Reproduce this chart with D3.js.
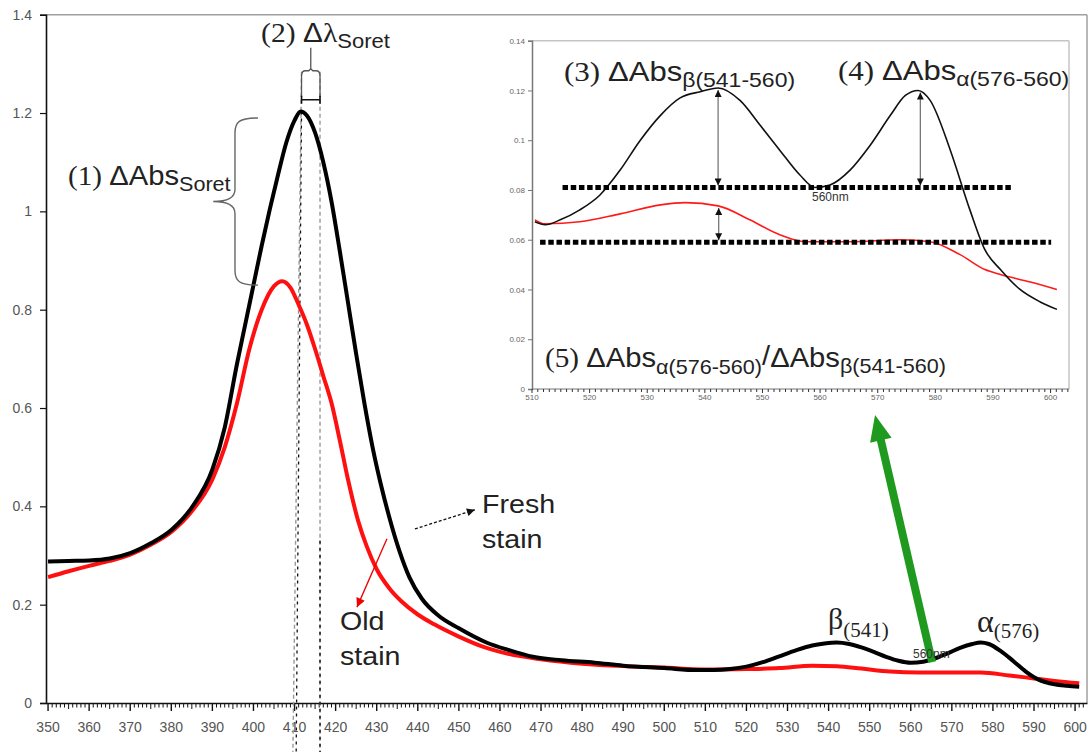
<!DOCTYPE html>
<html><head><meta charset="utf-8">
<script src="https://cdn.jsdelivr.net/npm/d3@7"></script>
<style>body{margin:0;background:#fff;} svg{display:block} text{white-space:pre}</style>
</head><body>
<svg id="c" width="1091" height="752"></svg>
<script>
// ---------- DATA ----------
// Main spectrum: [wavelength nm, absorbance]
const freshStain = [[350,0.288],[355,0.289],[360,0.290],[365,0.294],[370,0.305],[375,0.325],[380,0.352],[385,0.398],[390,0.475],[393,0.56],[396,0.69],[398,0.77],[400,0.85],[402,0.93],[404,1.005],[406,1.075],[408,1.14],[410,1.185],[411.5,1.203],[413,1.195],[415,1.16],[417,1.10],[419,1.02],[421,0.92],[423,0.815],[425,0.71],[427,0.61],[429,0.52],[431,0.445],[433,0.38],[435.5,0.31],[438,0.255],[441,0.212],[445,0.178],[450,0.152],[457,0.122],[462,0.108],[468,0.094],[475,0.087],[483,0.082],[490,0.076],[500,0.071],[508,0.067],[512,0.067],[516,0.069],[520,0.074],[524,0.083],[528,0.095],[532,0.107],[536,0.117],[539,0.121],[542,0.123],[545,0.120],[548,0.113],[551,0.104],[554,0.094],[557,0.086],[560,0.082],[563,0.084],[566,0.091],[569,0.101],[572,0.112],[575,0.120],[577,0.123],[579,0.120],[582,0.105],[585,0.085],[588,0.064],[591,0.048],[595,0.038],[598,0.035],[601,0.033]];
const oldStain = [[350,0.256],[355,0.268],[360,0.279],[365,0.289],[370,0.302],[375,0.322],[380,0.348],[385,0.39],[390,0.455],[393,0.52],[396,0.61],[399,0.72],[402,0.80],[405,0.848],[407,0.858],[409,0.845],[411,0.81],[413,0.77],[415,0.72],[417,0.665],[419,0.61],[421,0.535],[423,0.455],[425.5,0.37],[427.6,0.318],[430,0.272],[433.2,0.232],[436,0.207],[440,0.18],[444,0.16],[450,0.135],[456,0.114],[462,0.10],[470,0.089],[480,0.080],[490,0.075],[500,0.072],[510,0.068],[520,0.069],[528,0.071],[536,0.076],[542,0.075],[548,0.070],[555,0.064],[562,0.062],[570,0.062],[577,0.062],[584,0.056],[590,0.050],[595,0.045],[601,0.040]];
// Inset (510-600 nm)
const insetFresh = [[510.5,0.0672],[512.3,0.066],[514.9,0.068],[518.3,0.072],[521.8,0.078],[525.3,0.088],[528.8,0.100],[532.3,0.110],[535.7,0.117],[539.2,0.1195],[542.3,0.121],[546.1,0.116],[549.6,0.106],[553,0.096],[556.5,0.086],[559.1,0.081],[561.7,0.082],[565.2,0.088],[568.7,0.098],[572.2,0.110],[574.8,0.118],[577,0.120],[579.1,0.116],[582.6,0.096],[586,0.072],[588.6,0.056],[591.3,0.048],[594.7,0.040],[598.2,0.035],[601.1,0.032]];
const insetOld = [[510.5,0.068],[512.3,0.0664],[518.3,0.0672],[525.3,0.0704],[532.3,0.074],[536.6,0.0749],[542.3,0.0736],[547.8,0.068],[553,0.062],[557.4,0.0592],[565.2,0.0592],[573.9,0.060],[579.1,0.0592],[584.3,0.054],[588.6,0.048],[591.3,0.046],[596.5,0.043],[601.1,0.040]];
// baselines in inset: [level, from nm, to nm]
const insetBaselines = [[0.081,515.3,593.2],[0.059,511.4,600.1]];
// double arrows in inset: [nm, top, bottom]
const insetArrows = [[542.3,0.121,0.081],[577.4,0.120,0.081],[542.4,0.0736,0.059]];

const xTickLabels = [350,360,370,380,390,400,410,420,430,440,450,460,470,480,490,500,510,520,530,540,550,560,570,580,590,600];
const yTickValues = [0,0.2,0.4,0.6,0.8,1,1.2,1.4];
const yTickLabels = ["0","0.2","0.4","0.6","0.8","1","1.2","1.4"];
const insetXTickLabels = [510,520,530,540,550,560,570,580,590,600];
const insetYTickValues = [0,0.02,0.04,0.06,0.08,0.1,0.12,0.14];
const insetYTickLabels = ["0","0.02","0.04","0.06","0.08","0.1","0.12","0.14"];

// ---------- SETUP ----------
const SANS = "'Liberation Sans', Arial, sans-serif";
const SERIF = "'Liberation Serif', 'Times New Roman', serif";
const svg = d3.select("#c");
const x = d3.scaleLinear().domain([349.5, 602.9]).range([46, 1087]);
const y = d3.scaleLinear().domain([0, 1.4]).range([703, 14.7]);
const ix = d3.scaleLinear().domain([510, 603.2]).range([532, 1069]);
const iy = d3.scaleLinear().domain([0, 0.14]).range([389, 40.7]);

const defs = svg.append("defs");
function marker(id, color, w, h) {
  defs.append("marker").attr("id", id).attr("viewBox", "0 0 10 10").attr("refX", 10).attr("refY", 5)
    .attr("markerWidth", w).attr("markerHeight", h).attr("markerUnits", "userSpaceOnUse")
    .attr("orient", "auto-start-reverse")
    .append("path").attr("d", "M0,0 L10,5 L0,10 z").attr("fill", color);
}
marker("triBlk", "#111", 9, 8);
marker("triRed", "#e00", 10, 9);
marker("triIn", "#111", 8, 7);

// ---------- MAIN FRAME ----------
svg.append("line").attr("x1", x.range()[0]).attr("x2", x.range()[1]).attr("y1", y(1.4)).attr("y2", y(1.4)).attr("stroke", "#a0a0a0").attr("stroke-width", 1.5);
svg.append("line").attr("x1", x.range()[1]).attr("x2", x.range()[1]).attr("y1", y(1.4)).attr("y2", y(0)).attr("stroke", "#a0a0a0").attr("stroke-width", 1.5);

// y axis
const yAx = svg.append("g").attr("transform", `translate(${x.range()[0]},0)`)
  .call(d3.axisLeft(y).tickValues(yTickValues).tickSize(6).tickPadding(8).tickFormat((d, i) => yTickLabels[i]));
yAx.select(".domain").attr("stroke", "#111").attr("stroke-width", 1.6);
yAx.selectAll(".tick line").attr("stroke", "#111").attr("stroke-width", 1.2);
yAx.selectAll("text").attr("font-family", SANS).attr("font-size", 14).attr("fill", "#555");

// x axis
const minor = d3.range(350, 603, 1);
const xAx = svg.append("g").attr("transform", `translate(0,${y(0)})`)
  .call(d3.axisBottom(x).tickValues(minor).tickSize(0).tickFormat(""));
xAx.select(".domain").attr("stroke", "#111").attr("stroke-width", 1.6);
xAx.selectAll(".tick").remove();
svg.append("g").selectAll("line").data(minor).join("line")
  .attr("x1", d => x(d)).attr("x2", d => x(d)).attr("y1", y(0))
  .attr("y2", d => y(0) + (d % 10 === 0 ? 8 : d % 5 === 0 ? 6 : 4.5))
  .attr("stroke", "#111").attr("stroke-width", d => d % 10 === 0 ? 1.4 : 1);
svg.append("g").selectAll("text").data(xTickLabels).join("text")
  .attr("x", d => x(d)).attr("y", y(0) + 29).attr("text-anchor", "middle")
  .attr("font-family", SANS).attr("font-size", 14).attr("fill", "#555").text(d => d);

// ---------- MAIN ANNOTATIONS (dashed guides) ----------
const gd = svg.append("g");
gd.append("line").attr("x1", x(411.7)).attr("y1", y(1.284)).attr("x2", x(409.6)).attr("y2", y(-0.1))
  .attr("stroke", "#999").attr("stroke-width", 1.4).attr("stroke-dasharray", "4,3");
gd.append("line").attr("x1", x(411.7)).attr("y1", y(1.203)).attr("x2", x(410.4)).attr("y2", y(-0.1))
  .attr("stroke", "#111").attr("stroke-width", 1.3).attr("stroke-dasharray", "3,4");
gd.append("line").attr("x1", x(416.2)).attr("y1", y(1.284)).attr("x2", x(416.2)).attr("y2", y(-0.1))
  .attr("stroke", "#999").attr("stroke-width", 1.4).attr("stroke-dasharray", "4,3");
gd.append("line").attr("x1", x(416.2)).attr("y1", y(0.33)).attr("x2", x(416.2)).attr("y2", y(-0.1))
  .attr("stroke", "#111").attr("stroke-width", 1.4).attr("stroke-dasharray", "3,4");

// ---------- MAIN CURVES ----------
const line = d3.line().x(d => x(d[0])).y(d => y(d[1])).curve(d3.curveMonotoneX);
svg.append("path").datum(oldStain).attr("d", line).attr("fill", "none").attr("stroke", "#ff1010").attr("stroke-width", 4);
svg.append("path").datum(freshStain).attr("d", line).attr("fill", "none").attr("stroke", "#000").attr("stroke-width", 4);

// (2) bracket
const bx1 = x(411.7), bx2 = x(416.2), bxm = (bx1 + bx2) / 2;
svg.append("path").attr("d",
  `M${bxm},${y(1.333)} L${bxm},${y(1.29)} M${bx1},${y(1.233)} L${bx1},${y(1.276)} Q${bx1},${y(1.286)} ${bx1+4},${y(1.286)} L${bxm-2},${y(1.286)} L${bxm},${y(1.29)} L${bxm+2},${y(1.286)} L${bx2-4},${y(1.286)} Q${bx2},${y(1.286)} ${bx2},${y(1.276)} L${bx2},${y(1.233)}`)
  .attr("fill", "none").attr("stroke", "#555").attr("stroke-width", 1.3);
svg.append("path").attr("d", `M${bx1},${y(1.227)} L${bx2},${y(1.227)} M${bx1},${y(1.219)} L${bx1},${y(1.235)} M${bx2},${y(1.219)} L${bx2},${y(1.235)}`)
  .attr("fill", "none").attr("stroke", "#111").attr("stroke-width", 1.6);

// (1) brace
const bX = x(395.5), tipX = x(390.2), endX = x(401.1);
const yT = y(1.19), yM = y(1.02), yB = y(0.85);
svg.append("path").attr("d",
  `M${endX},${yT} C${bX+4},${yT} ${bX},${yT+4} ${bX},${yT+15} L${bX},${yM-12} C${bX},${yM-3} ${bX-8},${yM} ${tipX},${yM} C${bX-8},${yM} ${bX},${yM+3} ${bX},${yM+12} L${bX},${yB-15} C${bX},${yB-4} ${bX+4},${yB} ${endX},${yB}`)
  .attr("fill", "none").attr("stroke", "#666").attr("stroke-width", 1.4);

// arrows: fresh / old
svg.append("line").attr("x1", x(439.3)).attr("y1", y(0.354)).attr("x2", x(453.9)).attr("y2", y(0.393))
  .attr("stroke", "#111").attr("stroke-width", 1.3).attr("stroke-dasharray", "3,2").attr("marker-end", "url(#triBlk)");
svg.append("line").attr("x1", x(432.5)).attr("y1", y(0.334)).attr("x2", x(425.2)).attr("y2", y(0.195))
  .attr("stroke", "#e00").attr("stroke-width", 1.3).attr("marker-end", "url(#triRed)");

// green arrow
(function(){
  const x0 = x(565.2), y0 = y(0.083), x1 = x(551.3), y1 = y(0.586);
  const dx = x1 - x0, dy = y1 - y0, L = Math.hypot(dx, dy), ux = dx / L, uy = dy / L;
  const hl = 26, hw = 11;
  const bxp = x1 - ux * hl, byp = y1 - uy * hl;
  svg.append("line").attr("x1", x0).attr("y1", y0).attr("x2", bxp + ux * 2).attr("y2", byp + uy * 2)
    .attr("stroke", "#1f9a1f").attr("stroke-width", 8);
  svg.append("path").attr("d", `M${x1},${y1} L${bxp - uy * hw},${byp + ux * hw} L${bxp + uy * hw},${byp - ux * hw} Z`).attr("fill", "#1f9a1f");
})();

// ---------- TEXT ----------
function rich(px, py, sx, parts, fill) {
  const g = svg.append("g").attr("transform", `translate(${px},${py}) scale(${sx},1)`);
  const t = g.append("text").attr("fill", fill || "#222");
  parts.forEach(p => t.append("tspan").attr("font-family", p.f === "serif" ? SERIF : SANS)
    .attr("font-size", p.s).attr("dy", p.dy || 0).text(p.t));
}
rich(68, 185, 1.08, [{t:"(1) ", f:"serif", s:27}, {t:"ΔAbs", s:27}, {t:"Soret", s:20, dy:6}]);
rich(261, 42, 1.1, [{t:"(2) ", f:"serif", s:27}, {t:"Δ", s:27}, {t:"λ", f:"serif", s:27}, {t:"Soret", s:20, dy:6}]);
rich(564, 81, 1.15, [{t:"(3) ", f:"serif", s:27}, {t:"ΔAbs", s:27}, {t:"β(541-560)", s:20, dy:6}]);
rich(838, 80, 1.15, [{t:"(4) ", f:"serif", s:27}, {t:"ΔAbs", s:27}, {t:"α(576-560)", s:20, dy:6}]);
rich(545, 367, 1.08, [{t:"(5) ", f:"serif", s:27}, {t:"ΔAbs", s:27}, {t:"α(576-560)", s:20, dy:7}, {t:"/", s:27, dy:-9}, {t:"ΔAbs", s:27, dy:2}, {t:"β(541-560)", s:20, dy:6}]);
rich(482, 513, 1.1, [{t:"Fresh", s:26}]);
rich(482, 548, 1.1, [{t:"stain", s:26}]);
rich(340, 630, 1.1, [{t:"Old", s:26}]);
rich(340, 665, 1.1, [{t:"stain", s:26}]);
rich(828, 629, 1.0, [{t:"β", f:"serif", s:30}, {t:"(541)", f:"serif", s:21, dy:8}]);
rich(977, 632, 1.0, [{t:"α", f:"serif", s:32}, {t:"(576)", f:"serif", s:21, dy:6}]);
svg.append("text").attr("x", 913).attr("y", 658).attr("font-family", SANS).attr("font-size", 12).attr("fill", "#333").text("560nm");

// ---------- INSET ----------
const ins = svg.append("g");
ins.append("line").attr("x1", ix.range()[0]).attr("x2", ix.range()[1]).attr("y1", iy(0.14)).attr("y2", iy(0.14)).attr("stroke", "#c4c4c4").attr("stroke-width", 1.5);
ins.append("line").attr("x1", ix.range()[1]).attr("x2", ix.range()[1]).attr("y1", iy(0.14)).attr("y2", iy(0)).attr("stroke", "#c4c4c4").attr("stroke-width", 1.5);
const iyAx = ins.append("g").attr("transform", `translate(${ix.range()[0]},0)`)
  .call(d3.axisLeft(iy).tickValues(insetYTickValues).tickSize(4).tickPadding(3).tickFormat((d, i) => insetYTickLabels[i]));
iyAx.select(".domain").attr("stroke", "#777").attr("stroke-width", 1.5);
iyAx.selectAll(".tick line").attr("stroke", "#777");
iyAx.selectAll("text").attr("font-family", SANS).attr("font-size", 8).attr("fill", "#666");
const iMinor = d3.range(510, 604, 1);
ins.append("line").attr("x1", ix.range()[0]).attr("x2", ix.range()[1]).attr("y1", iy(0)).attr("y2", iy(0)).attr("stroke", "#777").attr("stroke-width", 1.2);
ins.append("g").selectAll("line").data(iMinor).join("line")
  .attr("x1", d => ix(d)).attr("x2", d => ix(d)).attr("y1", iy(0)).attr("y2", d => iy(0) + (d % 10 === 0 ? 4 : 3))
  .attr("stroke", "#333").attr("stroke-width", 1);
ins.append("g").selectAll("text").data(insetXTickLabels).join("text")
  .attr("x", d => ix(d)).attr("y", iy(0) + 11).attr("text-anchor", "middle")
  .attr("font-family", SANS).attr("font-size", 8).attr("fill", "#666").text(d => d);

const iline = d3.line().x(d => ix(d[0])).y(d => iy(d[1])).curve(d3.curveMonotoneX);
ins.append("path").datum(insetOld).attr("d", iline).attr("fill", "none").attr("stroke", "#ff1a1a").attr("stroke-width", 1.6);
ins.append("path").datum(insetFresh).attr("d", iline).attr("fill", "none").attr("stroke", "#111").attr("stroke-width", 1.6);
ins.append("g").selectAll("line").data(insetBaselines).join("line")
  .attr("x1", d => ix(d[1])).attr("x2", d => ix(d[2])).attr("y1", d => iy(d[0])).attr("y2", d => iy(d[0]))
  .attr("stroke", "#000").attr("stroke-width", 5).attr("stroke-dasharray", "5.5,2.7");
ins.append("g").selectAll("line").data(insetArrows).join("line")
  .attr("x1", d => ix(d[0])).attr("x2", d => ix(d[0])).attr("y1", d => iy(d[1]) + 2).attr("y2", d => iy(d[2]) - 2)
  .attr("stroke", "#777").attr("stroke-width", 1.3)
  .attr("marker-start", "url(#triIn)").attr("marker-end", "url(#triIn)");
ins.append("text").attr("x", ix(558.6)).attr("y", iy(0.0755)).attr("font-family", SANS).attr("font-size", 12).attr("fill", "#333").text("560nm");
</script>
</body></html>
